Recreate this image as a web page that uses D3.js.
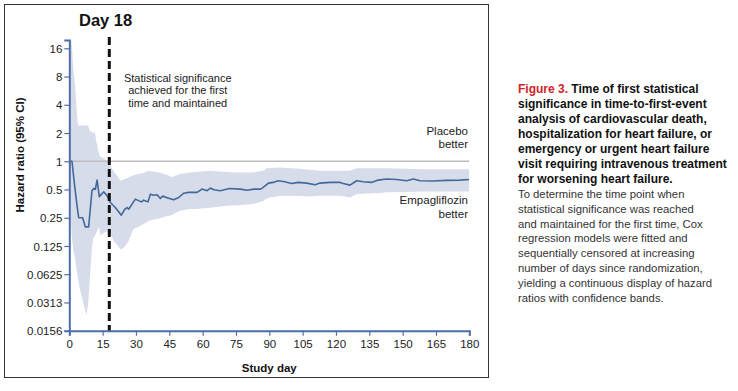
<!DOCTYPE html>
<html><head><meta charset="utf-8">
<script src="https://cdn.jsdelivr.net/npm/d3@7"></script>
<style>
html,body{margin:0;padding:0;background:#fff;}
svg text{font-family:"Liberation Sans",Arial,Helvetica,sans-serif;}
</style></head>
<body><svg id="c" width="738" height="391"></svg>
<script>
// ---- data ----
const hrDays = [0,1.2,2.4,3.5,4.2,6.0,7.2,8.7,10.2,11.0,11.7,12.5,13.5,15.5,17.0,18.5,20.7,23.4,25.0,26.0,26.7,29.7,32.4,33.5,35.4,36.5,38.0,39.5,41.0,42.0,44.7,47.0,49.2,51.5,53.7,57.5,59.7,62.0,63.5,65.0,68.0,72.0,77.0,80.0,83.0,86.0,87.3,89.6,91.8,94.0,97.0,100.0,103.0,106.8,110.6,112.8,117.3,121.8,123.3,126.3,129.3,132.3,136.0,139.0,142.8,147.3,151.8,154.8,157.8,163.8,169.8,175.8,180];
const hrValues = [1.0,1.0,0.55,0.335,0.25,0.25,0.20,0.20,0.485,0.513,0.50,0.63,0.42,0.473,0.428,0.363,0.321,0.266,0.308,0.321,0.308,0.395,0.369,0.385,0.369,0.446,0.435,0.44,0.401,0.425,0.404,0.388,0.411,0.457,0.466,0.466,0.505,0.485,0.518,0.496,0.485,0.512,0.505,0.49,0.505,0.505,0.527,0.585,0.595,0.62,0.604,0.58,0.595,0.585,0.562,0.585,0.595,0.595,0.58,0.557,0.62,0.604,0.595,0.63,0.646,0.64,0.62,0.646,0.62,0.615,0.625,0.63,0.64];

const ciDays  = [0,0.75,1.1,1.35,1.8,2.6,3.6,4.0,4.5,6.0,7.2,7.7,8.5,9.3,10.2,10.8,11.5,12.0,12.9,13.6,14.0,15.0,17.0,18.5,20.0,21.5,23.0,24.5,26.7,28.8,31.0,33.3,35.7,37.8,40.5,43.8,46.0,49.8,54.3,56.7,63.3,70.8,76.0,82.8,87.3,88.8,90.3,94.8,97.8,103.8,108.3,112.8,121.8,126.3,129.3,139.8,142.8,151.0,160.0,170.0,180];
const ciLower = [1.0,0.24,0.16,0.14,0.115,0.09,0.062,0.055,0.046,0.033,0.025,0.023,0.03,0.059,0.12,0.153,0.16,0.17,0.19,0.196,0.16,0.17,0.18,0.17,0.14,0.13,0.115,0.12,0.141,0.188,0.2,0.213,0.231,0.24,0.245,0.26,0.265,0.296,0.31,0.31,0.32,0.335,0.34,0.35,0.378,0.40,0.41,0.425,0.43,0.425,0.42,0.43,0.43,0.41,0.447,0.46,0.466,0.47,0.475,0.475,0.475];
const ciUpper = [24,24,18,14.7,9.7,6.45,2.84,2.41,2.4,2.4,2.4,2.4,2.4,2.1,2.05,1.96,2.1,1.7,1.35,1.15,1.12,1.1,1.0,0.9,0.78,0.7,0.62,0.64,0.67,0.71,0.73,0.75,0.79,0.78,0.76,0.72,0.68,0.73,0.76,0.77,0.79,0.77,0.76,0.76,0.79,0.84,0.85,0.86,0.85,0.83,0.81,0.79,0.79,0.79,0.84,0.84,0.84,0.83,0.82,0.82,0.82];

const xTicks = [0,15,30,45,60,75,90,105,120,135,150,165,180];
const yTicks = [16,8,4,2,1,0.5,0.25,0.125,0.0625,0.03125,0.015625];
const yTickLabels = ["16","8","4","2","1","0.5","0.25","0.125","0.0625","0.0313","0.0156"];
const significanceDay = 18;

const captionBold = ["Time of first statistical","significance in time-to-first-event","analysis of cardiovascular death,","hospitalization for heart failure, or","emergency or urgent heart failure","visit requiring intravenous treatment","for worsening heart failure."];
const captionBody = ["To determine the time point when","statistical significance was reached","and maintained for the first time, Cox","regression models were fitted and","sequentially censored at increasing","number of days since randomization,","yielding a continuous display of hazard","ratios with confidence bands."];

// ---- drawing ----
const svg = d3.select("#c");
const axisColor = "#4e6ea6";
const x = d3.scaleLinear().domain([0,180]).range([69.3,469.3]);
const y = d3.scaleLog().base(2).domain([1/64, Math.pow(2,4.294)]).range([330.7,40]);

// frame
svg.append("rect").attr("x",4.5).attr("y",4.5).attr("width",484).attr("height",373)
  .attr("fill","none").attr("stroke","#333").attr("stroke-width",1);

svg.append("defs").append("clipPath").attr("id","plot")
  .append("rect").attr("x",x(0)).attr("y",40).attr("width",x(180)-x(0)).attr("height",330.7-40);

const band = ciDays.map((d,i)=>({d, lo:ciLower[i], hi:ciUpper[i]}));
svg.append("path").datum(band).attr("clip-path","url(#plot)")
  .attr("fill","#d6dcea")
  .attr("d", d3.area().x(p=>x(p.d)).y0(p=>y(p.lo)).y1(p=>y(p.hi)));

// reference line HR = 1
svg.append("line").attr("x1",x(0)).attr("x2",x(180)).attr("y1",y(1)).attr("y2",y(1))
  .attr("stroke","#bdbdbd").attr("stroke-width",1.3);

const hr = hrDays.map((d,i)=>({d, v:hrValues[i]}));
svg.append("path").datum(hr).attr("clip-path","url(#plot)")
  .attr("fill","none").attr("stroke","#43699a").attr("stroke-width",1.6).attr("stroke-linejoin","round")
  .attr("d", d3.line().x(p=>x(p.d)).y(p=>y(p.v)));

// dashed significance line
svg.append("line").attr("x1",x(significanceDay)).attr("x2",x(significanceDay)).attr("y1",37).attr("y2",331)
  .attr("stroke","#111").attr("stroke-width",3).attr("stroke-dasharray","8,4");

// axes
const yAxis = d3.axisLeft(y).tickValues(yTicks).tickFormat((d,i)=>yTickLabels[i]).tickSizeOuter(0).tickSize(5).tickPadding(2);
const gy = svg.append("g").attr("transform",`translate(${x(0)},0)`).call(yAxis);
gy.select(".domain").attr("stroke",axisColor).attr("stroke-width",2);
gy.selectAll(".tick line").attr("stroke",axisColor).attr("stroke-width",1.2);
gy.selectAll(".tick text").attr("fill","#222").style("font-size","11.5px").attr("dy","0.35em");

const xAxis = d3.axisBottom(x).tickValues(xTicks).tickSizeOuter(0).tickSize(5).tickPadding(4);
const gx = svg.append("g").attr("transform",`translate(0,${y(1/64)})`).call(xAxis);
gx.select(".domain").attr("stroke",axisColor).attr("stroke-width",2);
gx.selectAll(".tick line").attr("stroke",axisColor).attr("stroke-width",1.2);
gx.selectAll(".tick text").attr("fill","#222").style("font-size","11.5px");

// titles
svg.append("text").attr("x",269.3).attr("y",371.5).attr("text-anchor","middle")
  .style("font-size","11.5px").style("font-weight","bold").attr("fill","#111").text("Study day");
svg.append("text").attr("transform","translate(24,155) rotate(-90)").attr("text-anchor","middle")
  .style("font-size","11.5px").style("font-weight","bold").attr("fill","#111").text("Hazard ratio (95% CI)");
svg.append("text").attr("x",79).attr("y",26).style("font-size","16.5px").style("font-weight","bold")
  .attr("fill","#111").text("Day 18");

// annotations
const ann = svg.append("text").attr("text-anchor","middle").style("font-size","11px").attr("fill","#222");
["Statistical significance","achieved for the first","time and maintained"].forEach((t,i)=>{
  ann.append("tspan").attr("x",177.7).attr("y",81.7+i*12.5).text(t);
});
const pb = svg.append("text").attr("text-anchor","end").style("font-size","11.5px").attr("fill","#222");
pb.append("tspan").attr("x",468).attr("y",135).text("Placebo");
pb.append("tspan").attr("x",468).attr("y",148).text("better");
const eb = svg.append("text").attr("text-anchor","end").style("font-size","11.5px").attr("fill","#222");
eb.append("tspan").attr("x",468).attr("y",204).text("Empagliflozin");
eb.append("tspan").attr("x",468).attr("y",218).text("better");

// caption
const cap = svg.append("g");
captionBold.forEach((t,i)=>{
  const tx = cap.append("text").attr("x",518).attr("y",93+i*15).style("font-size","12px").style("font-weight","bold").attr("fill","#111");
  if(i===0){
    tx.append("tspan").attr("fill","#d2232a").text("Figure 3. ");
  }
  tx.append("tspan").text(t);
});
captionBody.forEach((t,i)=>{
  cap.append("text").attr("x",518).attr("y",198+i*14.8).style("font-size","11.3px").attr("fill","#333").text(t);
});
</script></body></html>
